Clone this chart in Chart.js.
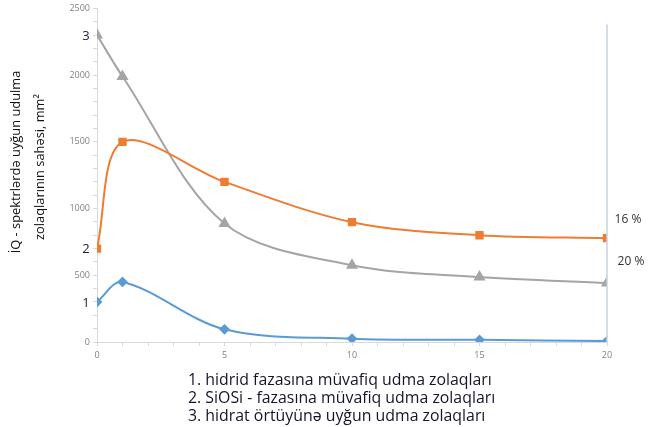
<!DOCTYPE html>
<html>
<head>
<meta charset="utf-8">
<script src="https://cdn.jsdelivr.net/npm/chart.js@4.4.1/dist/chart.umd.min.js"></script>
<style>
html,body{margin:0;padding:0;background:#fff;}
#wrap{position:relative;width:651px;height:427px;}
</style>
</head>
<body>
<div id="wrap"><canvas id="c" width="651" height="427"></canvas></div>
<script>
// ---- data ----
const xValues = [0, 1, 5, 10, 15, 20];
const hidridValues = [300, 450, 95, 25, 16, 7];        // series 1 (blue)
const siosiValues  = [700, 1500, 1200, 898, 800, 778];  // series 2 (orange)
const hidratValues = [2300, 1990, 888, 575, 487, 442];  // series 3 (gray)
const seriesNumbers = ['1', '2', '3'];
const endLabels = ['16 %', '20 %'];
const yTitleLines = ['İQ - spektrlərdə uyğun udulma', 'zolaqlarının sahəsi, mm²'];
const legendLines = [
  '1. hidrid fazasına müvafiq udma zolaqları',
  '2. SiOSi - fazasına müvafiq udma zolaqları',
  '3. hidrat örtüyünə uyğun udma zolaqları'
];
const yMax = 2500, yMajor = 500, yMinor = 100;
const xMax = 20, xMajor = 5;

const toPts = arr => xValues.map((x, i) => ({x: x, y: arr[i]}));

function fitFont(ctx, text, width, family, weight) {
  ctx.font = (weight || '') + ' 20px ' + family;
  const w = ctx.measureText(text).width;
  return 20 * width / w;
}

const extras = {
  id: 'extras',
  afterDraw(chart) {
    const ctx = chart.ctx;
    const xs = chart.scales.x, ys = chart.scales.y;
    ctx.save();
    // vertical reference line at x=20
    ctx.strokeStyle = '#c9d2e3';
    ctx.lineWidth = 1.5;
    ctx.beginPath();
    ctx.moveTo(xs.getPixelForValue(20), ys.getPixelForValue(2380));
    ctx.lineTo(xs.getPixelForValue(20), ys.getPixelForValue(0));
    ctx.stroke();

    // series numbers near first points
    ctx.fillStyle = '#1c1c3c';
    ctx.font = '13px "Open Sans"';
    ctx.textAlign = 'center';
    ctx.textBaseline = 'middle';
    const firsts = [hidridValues[0], siosiValues[0], hidratValues[0]];
    seriesNumbers.forEach((t, i) => {
      ctx.fillText(t, xs.getPixelForValue(0) - 11, ys.getPixelForValue(firsts[i]) + 1);
    });
    // end labels
    ctx.fillStyle = '#333';
    ctx.font = '12px "Open Sans"';
    const last = xValues.length - 1;
    ctx.fillText(endLabels[0], xs.getPixelForValue(20) + 21, ys.getPixelForValue(siosiValues[last]) - 19);
    ctx.fillText(endLabels[1], xs.getPixelForValue(20) + 24, ys.getPixelForValue(hidratValues[last]) - 21);

    // y-axis title
    ctx.fillStyle = '#111';
    const s1 = fitFont(ctx, yTitleLines[0], 183, '"Open Sans"');
    ctx.save();
    ctx.translate(16, 162);
    ctx.rotate(-Math.PI / 2);
    ctx.font = s1 + 'px "Open Sans"';
    ctx.fillText(yTitleLines[0], 0, 0);
    ctx.restore();
    ctx.save();
    ctx.translate(40, 167);
    ctx.rotate(-Math.PI / 2);
    ctx.font = s1 + 'px "Open Sans"';
    ctx.fillText(yTitleLines[1], 0, 0);
    ctx.restore();

    // legend text
    const ls = fitFont(ctx, legendLines[0], 304, '"Open Sans"');
    ctx.font = ls + 'px "Open Sans"';
    ctx.fillStyle = '#15152a';
    ctx.textAlign = 'left';
    legendLines.forEach((t, i) => ctx.fillText(t, 188, 380 + i * 18));
    ctx.restore();
  }
};

const tickFont = {family: '"Open Sans"', size: 9};
new Chart(document.getElementById('c'), {
  type: 'line',
  data: {
    datasets: [
      {label: legendLines[0], data: toPts(hidridValues), borderColor: '#5b9bd5', backgroundColor: '#5b9bd5',
       pointStyle: 'rectRot', pointRadius: 4, borderWidth: 2, tension: 0.33},
      {label: legendLines[1], data: toPts(siosiValues), borderColor: '#ed7d31', backgroundColor: '#ed7d31',
       pointStyle: 'rect', pointRadius: 4.5, borderWidth: 2, tension: 0.33},
      {label: legendLines[2], data: toPts(hidratValues), borderColor: '#a5a5a5', backgroundColor: '#a5a5a5',
       pointStyle: 'triangle', pointRadius: 5, borderWidth: 2, tension: 0.33}
    ]
  },
  options: {
    responsive: false,
    animation: false,
    devicePixelRatio: 1,
    layout: {padding: {left: 0, right: 44, top: 8, bottom: 0}},
    plugins: {legend: {display: false}, tooltip: {enabled: false}},
    scales: {
      x: {
        type: 'linear', min: 0, max: xMax,
        grid: {drawOnChartArea: false, color: '#d9d9d9', tickLength: 4},
        border: {color: '#d9d9d9'},
        ticks: {stepSize: 1, autoSkip: false, maxRotation: 0, color: '#808080', font: tickFont, padding: 4,
                callback: v => (v % xMajor === 0 ? String(v) : '')},
        afterFit: s => { s.height = 85; }
      },
      y: {
        min: 0, max: yMax,
        grid: {drawOnChartArea: false, color: '#d9d9d9', tickLength: 4},
        border: {color: '#d9d9d9'},
        ticks: {stepSize: yMinor, autoSkip: false, color: '#808080', font: tickFont, padding: 3,
                callback: v => (v % yMajor === 0 ? String(v) : '')},
        afterFit: s => { s.width = 97; }
      }
    }
  },
  plugins: [extras]
});
</script>
</body>
</html>
